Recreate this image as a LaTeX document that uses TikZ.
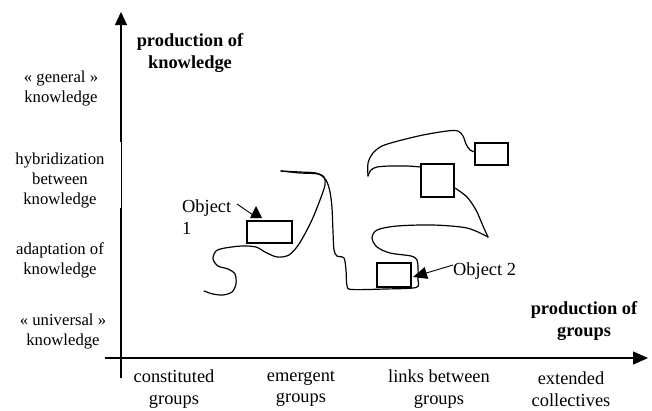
\documentclass[tikz,border=0pt]{standalone}
\usepackage{fontspec}
\setmainfont{Liberation Serif}
\usetikzlibrary{arrows.meta,calc}
\begin{document}
\begin{tikzpicture}[x=1pt,y=-1pt,
  lab/.style={align=center, inner sep=0pt, font=\fontsize{16.7}{20}\selectfont},
  blab/.style={align=center, inner sep=0pt, font=\fontsize{18.4}{21.5}\selectfont},
  boldlab/.style={align=center, inner sep=0pt, font=\fontsize{18.4}{22.5}\selectfont\bfseries},
  objbox/.style={draw, line width=1.2pt, inner sep=0pt, rectangle},
  curve/.style={line width=1.2pt, line join=round, line cap=round},
  axisline/.style={line width=1.2pt}]
\useasboundingbox (0,0) rectangle (652,410);
% axes
\coordinate (ybot) at (121,378);
\coordinate (ythin1) at (121,208);
\coordinate (ythin2) at (121,142);
\coordinate (ytop) at (121,12);
\coordinate (xleft) at (105,358);
\coordinate (xright) at (648,358);
\draw[axisline] (ybot) -- (ythin1);
\draw[line width=0.6pt] (ythin1) -- (ythin2);
\draw[axisline,-{Triangle[length=13pt,width=12pt]}] (ythin2) -- (ytop);
\draw[axisline,-{Triangle[length=15pt,width=13pt]}] (xleft) -- (xright);
% axis titles
\node[boldlab] (ytitle) at (190,53) {production of\\knowledge};
\node[boldlab] (xtitle) at (584,321) {production of\\groups};
% left labels
\node[lab] (l1) at (61,89) {« general »\\knowledge};
\node[lab] (l2) at (60,181) {hybridization\\between\\knowledge};
\node[lab] (l3) at (60,260) {adaptation of\\knowledge};
\node[lab] (l4) at (63,331) {« universal »\\knowledge};
% bottom labels
\node[blab] (g1) at (174,389) {constituted\\groups};
\node[blab] (g2) at (301,389) {emergent\\groups};
\node[blab] (g3) at (439,389) {links between\\groups};
\node[blab] (g4) at (571,389) {extended\\collectives};
% boxes
\node[objbox, minimum width=45pt, minimum height=22pt] (b1) at (269.5,232) {};
\node[objbox, minimum width=34pt, minimum height=24pt] (b2) at (394,275) {};
\node[objbox, minimum width=33pt, minimum height=33pt] (b3) at (437.5,180.5) {};
\node[objbox, minimum width=33pt, minimum height=22pt] (b4) at (491.5,154) {};
% curves
\draw[curve] plot[smooth] coordinates {(204,291) (213,294) (223,295) (232,292) (236,284) (235,274) (228,269) (218,266) (213,259) (216,251) (225,248) (242,246) (256,247) (265,252) (277,257) (289,255) (299,244) (311,222) (320,200) (325,185) (324,177) (316,173) (300,172) (281,171)};
\draw[curve] plot[smooth] coordinates {(281,171) (300,173) (318,174) (326,180) (330,192) (332,208) (333,232) (334,250) (337,256) (344,258) (346,270) (347,286) (352,289.5) (385,289) (416,287.5) (418,280) (418,268) (417,260) (411,256) (390,253) (377,247) (372,238) (377,230) (397,226) (433,225) (467,228) (488,237)};
\draw[curve] plot[smooth] coordinates {(488,237) (483,226) (476,210) (467,197) (455,188)};
\draw[curve] plot[smooth] coordinates {(421,167) (407,166) (390,166) (377,167) (371,170) (368,176)};
\draw[curve] plot[smooth] coordinates {(368,176) (368,163) (373,153) (382,146) (398,141) (423,135) (447,131) (458,131) (463,136) (466,144) (470,150) (475,152)};
% object labels
\node[blab, align=left, anchor=west] (o1) at (182,217) {Object\\1};
\node[blab, anchor=west] (o2) at (453,271) {Object 2};
\coordinate (o1s) at (237,204);
\coordinate (o1e) at (253,215);
\draw[line width=0.9pt] (o1s) -- (o1e);
\fill (256,206) -- (250,218) -- (262,218) -- cycle;
\coordinate (o2s) at (453,265);
\coordinate (o2t) at (413,277);
\draw[line width=0.9pt,-{Triangle[length=14pt,width=12pt]}] (o2s) -- (o2t);
\end{tikzpicture}
\end{document}
